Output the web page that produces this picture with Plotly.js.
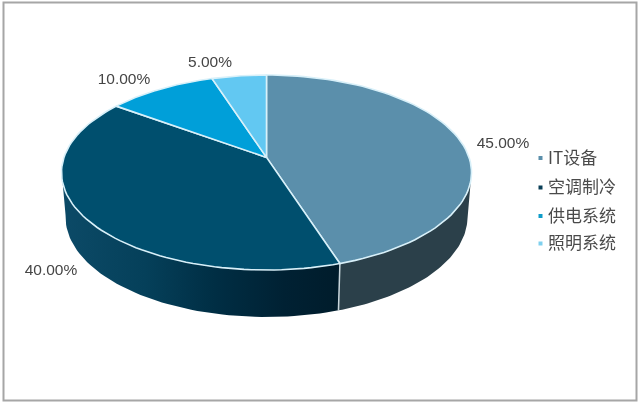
<!DOCTYPE html>
<html><head><meta charset="utf-8">
<script src="https://cdn.plot.ly/plotly-3.0.1.min.js"></script>
<style>html,body{margin:0;padding:0;background:#fff}#c{width:640px;height:404px;filter:blur(0.4px)}</style>
</head><body><div id="c"></div>
<script>
var categories = ['IT设备','空调制冷','供电系统','照明系统'];
var shares = [45, 40, 10, 5];
var shareLabels = ['45.00%','40.00%','10.00%','5.00%'];
var topColors = ['#5b8fab','#004f6e','#009fd9','#62c8f2'];
var legendColors = ['#5b8fab','#0a3f57','#0f9cc9','#7fd0ee'];

// pie geometry (pixel scale of the hidden axes)
var cx=266.5, cy=172.5, rx=205, ry=97.5, k=0.155;
var bcy=217, brx=201, bry=100;
function onRim(frac){ // perspective projection of a pie fraction on the top rim, as unit coords
  var a=frac*2*Math.PI, x=Math.sin(a), y=Math.cos(a), d=1+k*y;
  return [x*Math.sqrt(1-k*k)/d,(y+k)/d];
}
function px(u){return [cx+rx*u[0],cy-ry*u[1]];}
function paramOf(frac){var u=onRim(frac);var t=Math.atan2(u[0],u[1]);return t<0?t+2*Math.PI:t;}
var apex=[cx,cy-ry*k];
var total=shares.reduce(function(a,b){return a+b;},0);
var bounds=[0]; shares.forEach(function(s,i){bounds.push(bounds[i]+s/total);});

var traces=[];
function wall(t0,t1,fill,grad){
  var xs=[],ys=[],n=60,i,t;
  for(i=0;i<=n;i++){t=t0+(t1-t0)*i/n;xs.push(cx+rx*Math.sin(t));ys.push(cy-ry*Math.cos(t));}
  for(i=n;i>=0;i--){t=t0+(t1-t0)*i/n;xs.push(cx+brx*Math.sin(t));ys.push(bcy-bry*Math.cos(t));}
  xs.push(xs[0]);ys.push(ys[0]);
  var tr={x:xs,y:ys,mode:'lines',fill:'toself',line:{width:0,color:fill},fillcolor:fill,hoverinfo:'skip',showlegend:false};
  if(grad) tr.fillgradient=grad;
  traces.push(tr);
}
var split=paramOf(bounds[1]);
wall(Math.PI/2,split,'#2b404a');
wall(split,1.5*Math.PI+0.02,'#003048',{type:'horizontal',colorscale:[[0,'#0c4a67'],[0.3,'#05405a'],[0.55,'#002e44'],[0.8,'#002133'],[1,'#001c2b']]});
// wall separator
var sx=cx+rx*Math.sin(split), sTop=cy-ry*Math.cos(split);
var sxb=cx+brx*Math.sin(split), sBot=bcy-bry*Math.cos(split);
traces.push({x:[sx,sxb],y:[sTop,sBot],mode:'lines',line:{color:'#c9d6dc',width:1.5},hoverinfo:'skip',showlegend:false});
// top slices
shares.forEach(function(s,i){
  var xs=[apex[0]],ys=[apex[1]],n=80;
  for(var j=0;j<=n;j++){var p=px(onRim(bounds[i]+(bounds[i+1]-bounds[i])*j/n));xs.push(p[0]);ys.push(p[1]);}
  xs.push(apex[0]);ys.push(apex[1]);
  traces.push({x:xs,y:ys,name:categories[i],mode:'lines',fill:'toself',fillcolor:topColors[i],
    line:{color:'#d8f0f9',width:1.6},showlegend:false,hoverinfo:'name'});
});
// legend keys and names
var lx=[540.5,540.5,540.5,540.5], ly=[158,187.5,216,243.5], lty=[160,189,217.5,245];
traces.push({x:lx,y:ly,mode:'markers',marker:{symbol:'square',size:4,color:legendColors},hoverinfo:'skip',showlegend:false});
traces.push({x:[548,548,548,548],y:lty,mode:'text',text:categories,textposition:'middle right',
  textfont:{family:'"Noto Sans CJK SC"',size:17,color:'#4a4a4a'},hoverinfo:'skip',showlegend:false});
// value labels
var labelPos=[[503,144],[51,271.5],[124,80],[210,63]];
traces.push({x:labelPos.map(function(p){return p[0];}),y:labelPos.map(function(p){return p[1];}),mode:'text',text:shareLabels,
  textposition:'middle center',textfont:{family:'"Liberation Sans"',size:15.5,color:'#454545'},hoverinfo:'skip',showlegend:false});

var layout={width:640,height:404,margin:{l:0,r:0,t:0,b:0},paper_bgcolor:'#fff',plot_bgcolor:'#fff',showlegend:false,
  xaxis:{range:[0,640],visible:false,fixedrange:true},
  yaxis:{range:[404,0],visible:false,fixedrange:true},
  shapes:[{type:'rect',xref:'x',yref:'y',x0:3.5,x1:636.5,y0:2.5,y1:400.5,line:{color:'#a6a6a6',width:2},fillcolor:'rgba(0,0,0,0)'}]};
Plotly.newPlot('c',traces,layout,{displayModeBar:false,staticPlot:true});
</script></body></html>
